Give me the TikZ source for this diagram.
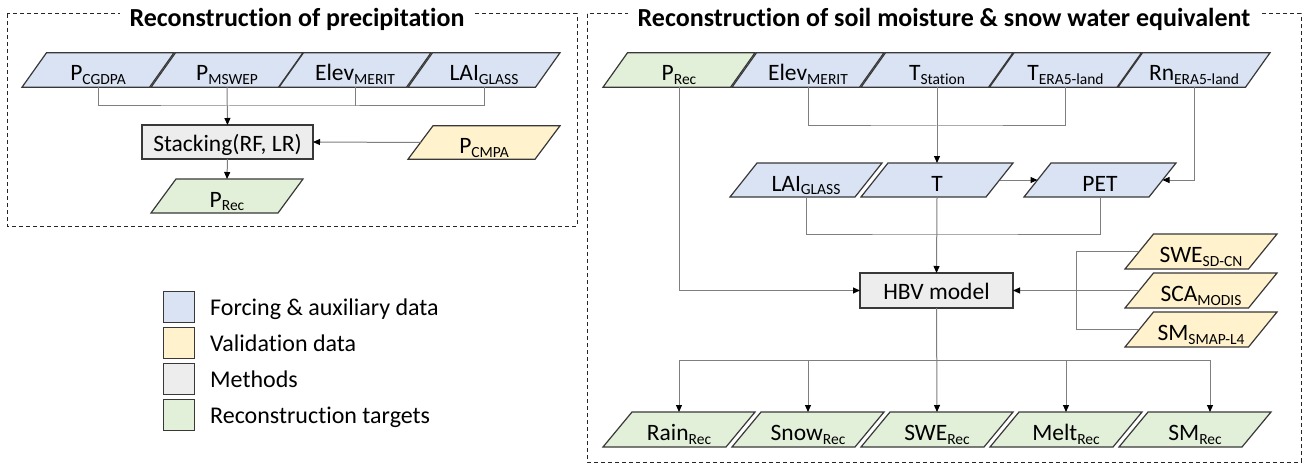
\documentclass[tikz,border=0pt]{standalone}
\usepackage{fontspec}
\setmainfont{Carlito}[Ligatures=NoCommon]
\usetikzlibrary{arrows.meta,calc}
\pgfdeclarelayer{bgwhite}
\pgfdeclarelayer{background}
\pgfsetlayers{bgwhite,background,main}
\definecolor{fblue}{HTML}{DAE3F3}
\definecolor{fyel}{HTML}{FFF2CC}
\definecolor{fgray}{HTML}{EDEDED}
\definecolor{fgreen}{HTML}{E2F0D9}
\definecolor{bord}{HTML}{383838}
\definecolor{conn}{HTML}{7F7F7F}
\newcommand{\Sb}[1]{\raisebox{-3.5pt}{\fontsize{15.5}{16}\selectfont #1}}
\tikzset{
  pgbox/.style={rectangle, inner sep=0pt, outer sep=0pt, minimum height=34.5pt,
    font=\fontsize{23.5}{24}\selectfont, text height=22pt, text depth=0pt},
  pgshape/.style={draw=bord, line width=1.2pt, line join=miter},
  methbox/.style={rectangle, draw=bord, line width=1.2pt, fill=fgray, inner sep=0pt,
    outer sep=0pt, font=\fontsize{23.5}{24}\selectfont, text height=18pt, text depth=0pt},
  cl/.style={draw=conn, line width=1pt},
  arr/.style={-{Triangle[length=7pt,width=6pt,color=black]}},
  dashbox/.style={draw=black!85, line width=1pt, dash pattern=on 4pt off 3pt},
  ttl/.style={fill=white, inner xsep=10pt, inner ysep=2pt, anchor=base,
    font=\bfseries\fontsize{26}{28}\selectfont},
  legsq/.style={rectangle, draw=bord, line width=1.2pt, minimum size=31pt, inner sep=0pt},
  legtx/.style={anchor=base west, inner sep=0pt, font=\fontsize{24}{25}\selectfont}
}
% #1 name, #2 position, #3 slant, #4 height, #5 fill, #6 text
\newcommand{\pgram}[6]{%
  \node[pgbox, minimum width=152pt-#3pt, minimum height=#4pt] (#1) at (#2) {#6};
  \begin{pgfonlayer}{background}
  \draw[pgshape, fill=#5] ([xshift=-#3pt/2]#1.south west) -- ([xshift=#3pt/2]#1.north west)
     -- ([xshift=#3pt/2]#1.north east) -- ([xshift=-#3pt/2]#1.south east) -- cycle;
  \end{pgfonlayer}}
\begin{document}
\begin{tikzpicture}[x=1pt,y=-1pt]
\begin{pgfonlayer}{bgwhite}
\fill[white] (0,0) rectangle (1306,468);
\end{pgfonlayer}
\useasboundingbox (0,0) rectangle (1306,468);
% frames
\draw[dashbox] (7,14) rectangle (577,226);
\draw[dashbox] (587,14) rectangle (1301,462);
\node[ttl] (t1) at (297,27) {Reconstruction of precipitation};
\node[ttl] (t2) at (944,27) {Reconstruction of soil moisture \& snow water equivalent};
% left part
\pgram{cg}{98,70}{24.5}{34.5}{fblue}{P\Sb{CGDPA}}
\pgram{ms}{227,70}{24.5}{34.5}{fblue}{P\Sb{MSWEP}}
\pgram{el}{355,70}{24.5}{34.5}{fblue}{Elev\Sb{MERIT}}
\pgram{lai}{484,70}{24.5}{34.5}{fblue}{LAI\Sb{GLASS}}
\node[methbox, minimum width=171pt, minimum height=34pt] (stack) at (227.5,142) {Stacking(RF, LR)};
\pgram{cmpa}{484,142.5}{25}{33.5}{fyel}{P\Sb{CMPA}}
\pgram{prec}{227,196}{25}{34}{fgreen}{P\Sb{Rec}}
\coordinate (jL) at (227,106);
\draw[cl] (cg.south) |- (jL) -| (lai.south);
\draw[cl] (el.south) -- (el |- jL);
\draw[cl,arr] (ms.south) -- (stack.north);
\draw[cl,arr] (cmpa.west) -- (stack.east);
\draw[cl,arr] (stack.south) -- (prec.north);
% right part
\pgram{pr2}{679,70}{24.5}{34.5}{fgreen}{P\Sb{Rec}}
\pgram{el2}{808,70}{24.5}{34.5}{fblue}{Elev\Sb{MERIT}}
\pgram{tst}{937,70}{24.5}{34.5}{fblue}{T\Sb{Station}}
\pgram{tera}{1065.5,70}{24.5}{34.5}{fblue}{T\Sb{ERA5-land}}
\pgram{rn}{1194,70}{24.5}{34.5}{fblue}{Rn\Sb{ERA5-land}}
\pgram{lai2}{806,180}{27}{34}{fblue}{LAI\Sb{GLASS}}
\pgram{t}{937,180}{27}{34}{fblue}{T}
\pgram{pet}{1100,180}{27}{34}{fblue}{PET}
\node[methbox, minimum width=153pt, minimum height=35pt] (hbv) at (936.5,290.5) {HBV model};
\pgram{swe}{1201,251.5}{28.5}{35}{fyel}{SWE\Sb{SD-CN}}
\pgram{sca}{1201,290.5}{28.5}{35}{fyel}{SCA\Sb{MODIS}}
\pgram{sm}{1201,329.5}{28.5}{35}{fyel}{SM\Sb{SMAP-L4}}
\pgram{rain}{679,429.5}{29}{35}{fgreen}{Rain\Sb{Rec}}
\pgram{snow}{808,429.5}{29}{35}{fgreen}{Snow\Sb{Rec}}
\pgram{swer}{937,429.5}{29}{35}{fgreen}{SWE\Sb{Rec}}
\pgram{melt}{1066,429.5}{29}{35}{fgreen}{Melt\Sb{Rec}}
\pgram{smr}{1195,429.5}{29}{35}{fgreen}{SM\Sb{Rec}}
\coordinate (jT) at (937,126);
\draw[cl] (el2.south) |- (jT) -| (tera.south);
\draw[cl,arr] (tst.south) -- (t.north);
\draw[cl,arr] (t.east) -- (pet.west);
\draw[cl,arr] (rn.south) |- (pet.east);
\coordinate (jM) at (937,234);
\draw[cl] (lai2.south) |- (jM) -| (pet.south);
\draw[cl,arr] (t.south) -- (hbv.north);
\draw[cl,arr] (pr2.south) |- (hbv.west);
\coordinate (jV) at (1076,290.5);
\draw[cl] (swe.west) -| (jV) |- (sm.west);
\draw[cl,arr] (sca.west) -- (hbv.east);
\coordinate (jB1) at (679,360);
\coordinate (jB5) at (1210,360);
\draw[cl] (jB1) -- (jB5);
\draw[cl,arr] (hbv.south) -- (swer.north);
\draw[cl,arr] (jB1) -- (rain.north);
\draw[cl,arr] (snow |- jB1) -- (snow.north);
\draw[cl,arr] (melt |- jB1) -- (melt.north);
\draw[cl,arr] (jB5) -- (jB5 |- smr.north);
% legend
\node[legsq,fill=fblue] (lg1) at (179,307) {};
\node[legsq,fill=fyel] (lg2) at (179,343) {};
\node[legsq,fill=fgray] (lg3) at (179,379) {};
\node[legsq,fill=fgreen] (lg4) at (179,415) {};
\node[legtx] (lt1) at (210,315.5) {Forcing \& auxiliary data};
\node[legtx] (lt2) at (210,351.5) {Validation data};
\node[legtx] (lt3) at (210,387.5) {Methods};
\node[legtx] (lt4) at (210,423.5) {Reconstruction targets};
\end{tikzpicture}
\end{document}
